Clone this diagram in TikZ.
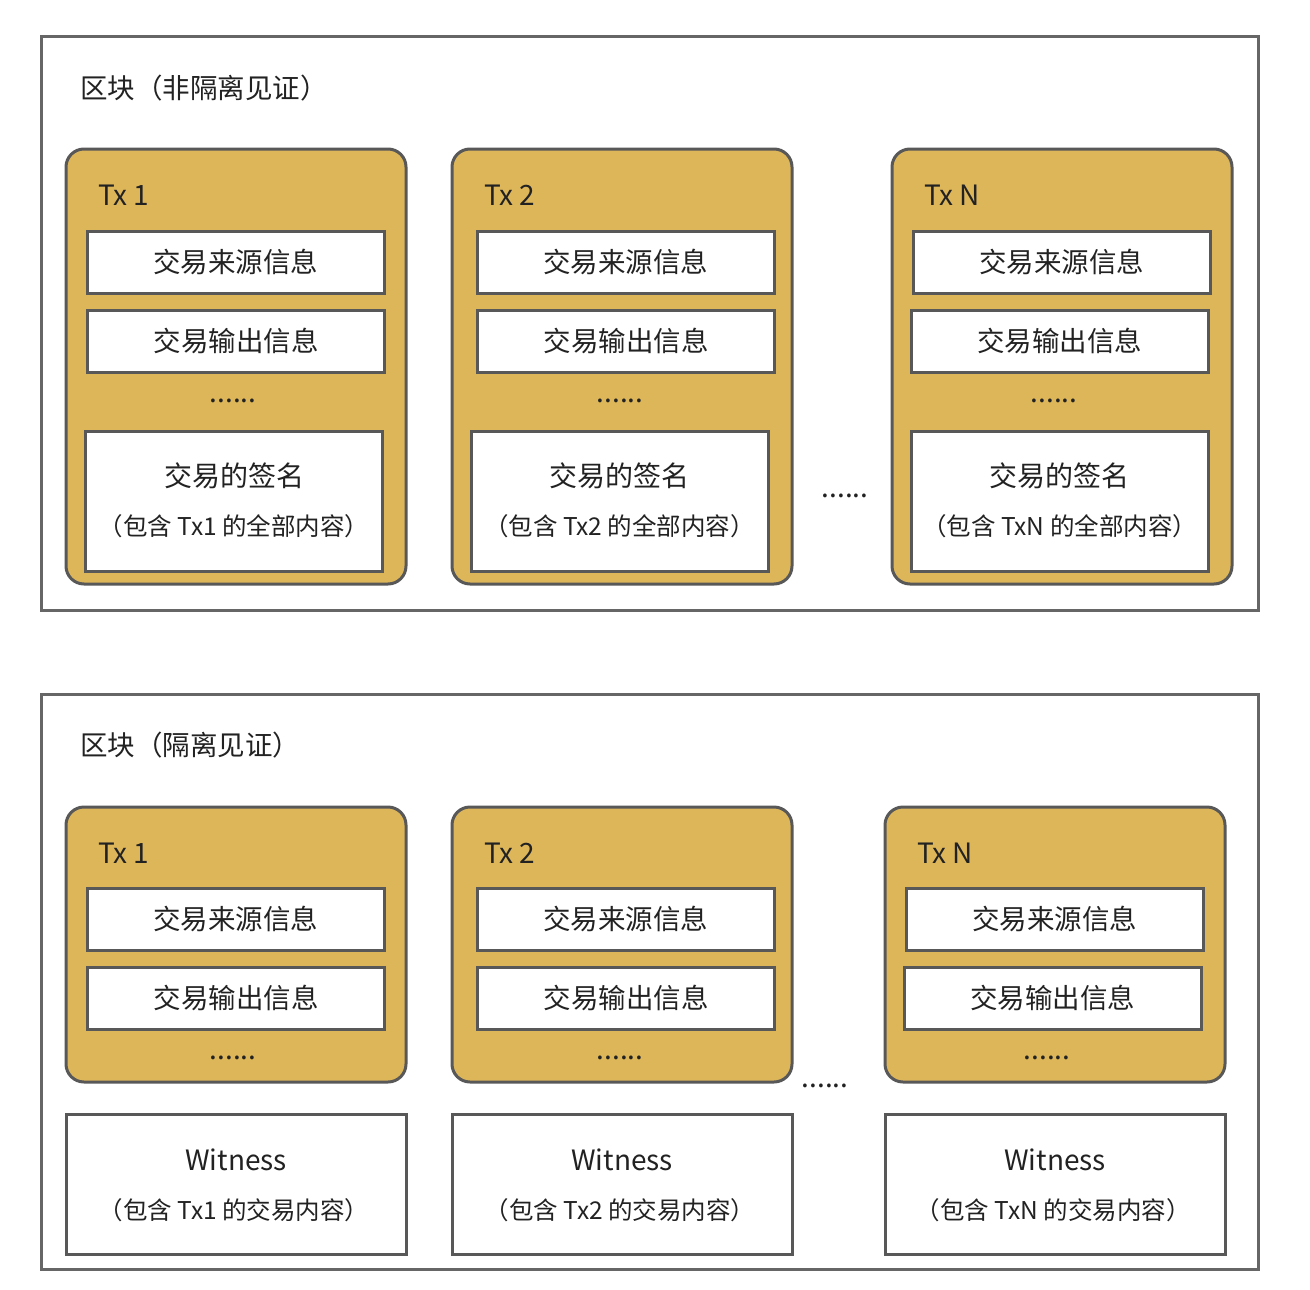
\documentclass[tikz,border=0pt]{standalone}
\usepackage{fontspec}
\setmainfont{Noto Sans CJK SC}
\definecolor{gold}{RGB}{221,182,90}
\definecolor{boxgray}{RGB}{88,88,88}
\definecolor{framegray}{RGB}{102,102,102}
\definecolor{ink}{RGB}{34,34,34}
\tikzset{
  frame/.style={draw=framegray, line width=3pt, rectangle, inner sep=0pt, minimum width=1217pt},
  txbox/.style={draw=boxgray, fill=gold, line width=3pt, rounded corners=18pt, inner sep=0pt, minimum width=340pt},
  field/.style={draw=boxgray, fill=white, line width=3pt, inner sep=0pt, minimum width=297pt, minimum height=62pt, text=ink, font=\fontsize{27.5}{32}\selectfont},
  bigbox/.style={draw=boxgray, fill=white, line width=3pt, inner sep=0pt, minimum height=140pt},
  title/.style={text=ink, inner sep=0pt, anchor=west, font=\fontsize{27.5}{32}\selectfont},
  lab/.style={text=ink, inner sep=0pt, anchor=west, font=\fontsize{28}{32}\selectfont},
  maintext/.style={text=ink, inner sep=0pt, font=\fontsize{28}{32}\selectfont},
  subtext/.style={text=ink, inner sep=0pt, font=\fontsize{24.5}{28}\selectfont},
  dots/.style={text=ink, inner sep=0pt, font=\fontsize{28}{30}\selectfont},
}
\begin{document}
\begin{tikzpicture}[x=1pt,y=-1pt]
\useasboundingbox (0,0) rectangle (1310,1290);
\fill[white] (0,0) rectangle (1310,1290);

% ---------- top block ----------
\node[frame, minimum height=573pt] (topframe) at (649.5,323.5) {};
\node[title] (toptitle) at (80,88) {区块（非隔离见证）};

\foreach \i/\cx/\lx/\fa/\fb/\sg/\dx/\nm in {
  1/236/98/235.5/236/234/233/1,
  2/622/484/625.5/626/619.5/620/2,
  3/1062/924/1061.5/1059.5/1059.5/1054/N}{
  \node[txbox, minimum height=435pt] (ttx\i) at (\cx,366.5) {};
  \node[lab] (ttxl\i) at (\lx,195) {Tx \nm};
  \node[field] (tin\i) at (\fa,262) {交易来源信息};
  \node[field] (tout\i) at (\fb,341) {交易输出信息};
  \node[dots] (tdots\i) at (\dx,401) {......};
  \node[bigbox, minimum width=297pt] (tsig\i) at (\sg,501) {};
  \node[maintext] (tsigt\i) at (\sg,476) {交易的签名};
  \node[subtext] (tsigs\i) at (\sg,526) {（包含 Tx\nm\ 的全部内容）};
}
\node[dots] (tmid) at (845,496) {......};

% ---------- bottom block ----------
\node[frame, minimum height=575pt] (botframe) at (649.5,981.5) {};
\node[title] (bottitle) at (80,745) {区块（隔离见证）};

\foreach \i/\cx/\lx/\fa/\fb/\dx/\nm in {
  1/236/98/235.5/236/233/1,
  2/622/484/625.5/626/620/2,
  3/1055/917/1054.5/1052.5/1047/N}{
  \node[txbox, minimum height=275pt] (btx\i) at (\cx,944.5) {};
  \node[lab] (btxl\i) at (\lx,853) {Tx \nm};
  \node[field] (bin\i) at (\fa,919) {交易来源信息};
  \node[field] (bout\i) at (\fb,998) {交易输出信息};
  \node[dots] (bdots\i) at (\dx,1058) {......};
  \node[bigbox, minimum width=340pt] (wit\i) at (\cx,1184) {};
  \node[maintext] (witt\i) at (\cx,1160) {Witness};
  \node[subtext] (wits\i) at (\cx-2,1210) {（包含 Tx\nm\ 的交易内容）};
}
\node[dots] (bmid) at (825,1086) {......};
\end{tikzpicture}
\end{document}
